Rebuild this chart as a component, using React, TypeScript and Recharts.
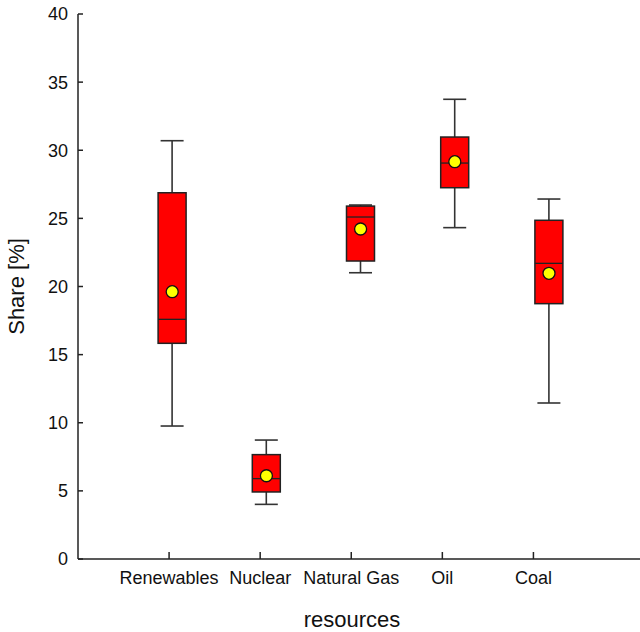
import React from 'react';
import { ComposedChart, Bar, Scatter, XAxis, YAxis } from 'recharts';

const categories = ['Renewables', 'Nuclear', 'Natural Gas', 'Oil', 'Coal'];
const positions = [1, 2, 3, 4, 5];
const mins = [9.76, 4.01, 21.01, 24.32, 11.45];
const q1s = [15.83, 4.92, 21.87, 27.25, 18.74];
const medians = [17.59, 5.9, 25.1, 29.06, 21.7];
const q3s = [26.88, 7.66, 25.9, 30.97, 24.86];
const maxs = [30.7, 8.73, 25.98, 33.74, 26.42];
const means = [19.62, 6.11, 24.22, 29.16, 20.97];
const yTicks = [0, 5, 10, 15, 20, 25, 30, 35, 40];

const data = categories.map((name, i) => ({
  name,
  x: positions[i],
  min: mins[i],
  q1: q1s[i],
  median: medians[i],
  q3: q3s[i],
  max: maxs[i],
  mean: means[i],
  range: [mins[i], maxs[i]],
}));

const FONT = '"Liberation Sans", Arial, sans-serif';
const AXIS = '#222';

const BoxShape = (props: any) => {
  const { x, y, width, height, payload } = props;
  if (!payload) return null;
  const top = Math.min(y, y + height);
  const h = Math.abs(height);
  const span = payload.max - payload.min;
  const py = (v: number) => top + (h * (payload.max - v)) / span;
  const cx = x + width / 2;
  const boxW = 28;
  const capW = 23;
  const yMax = py(payload.max);
  const yMin = py(payload.min);
  const yQ3 = py(payload.q3);
  const yQ1 = py(payload.q1);
  const yMed = py(payload.median);
  return (
    <g>
      <line x1={cx} x2={cx} y1={yMax} y2={yQ3} stroke="#333" strokeWidth={1.6} />
      <line x1={cx} x2={cx} y1={yQ1} y2={yMin} stroke="#333" strokeWidth={1.6} />
      <line x1={cx - capW / 2} x2={cx + capW / 2} y1={yMax} y2={yMax} stroke="#333" strokeWidth={1.6} />
      <line x1={cx - capW / 2} x2={cx + capW / 2} y1={yMin} y2={yMin} stroke="#333" strokeWidth={1.6} />
      <rect x={cx - boxW / 2} y={yQ3} width={boxW} height={yQ1 - yQ3} fill="#ff0000" stroke="#222" strokeWidth={1.5} />
      <line x1={cx - boxW / 2} x2={cx + boxW / 2} y1={yMed} y2={yMed} stroke="#222" strokeWidth={1.3} />
    </g>
  );
};

const MeanDot = (props: any) => {
  const { cx, cy } = props;
  return <circle cx={cx} cy={cy} r={6} fill="#ffff00" stroke="#111" strokeWidth={1.3} />;
};

export default function App() {
  return (
    <div style={{ position: 'absolute', left: 0, top: 0, width: 640, height: 632, background: '#fff' }}>
      <ComposedChart width={640} height={632} data={data} margin={{ top: 14, right: 0, bottom: 0, left: 0 }}>
        <XAxis
          xAxisId="ticks"
          dataKey="x"
          type="number"
          domain={[0, 6.17]}
          ticks={positions}
          allowDataOverflow
          tickFormatter={(v: number) => categories[v - 1] ?? ''}
          tickSize={-7}
          tickMargin={19}
          height={73}
          axisLine={{ stroke: AXIS, strokeWidth: 1.5 }}
          tickLine={{ stroke: AXIS, strokeWidth: 1.5 }}
          tick={{ fill: '#111', fontSize: 18, fontFamily: FONT }}
          interval={0}
          label={{ value: 'resources', position: 'insideBottom', offset: 5, dx: -7, fill: '#111', fontSize: 22, fontFamily: FONT }}
        />
        <XAxis
          xAxisId="box"
          dataKey="x"
          type="number"
          domain={[0, 5.966]}
          orientation="top"
          height={0}
          tick={false}
          tickLine={false}
          axisLine={{ stroke: AXIS, strokeWidth: 1.5 }}
          allowDataOverflow
        />
        <YAxis
          type="number"
          domain={[0, 40]}
          ticks={yTicks}
          width={78}
          tickSize={-5}
          tickMargin={15}
          axisLine={{ stroke: AXIS, strokeWidth: 1.5 }}
          tickLine={{ stroke: AXIS, strokeWidth: 1.5 }}
          tick={{ fill: '#111', fontSize: 18, fontFamily: FONT }}
          label={{ value: 'Share [%]', angle: -90, position: 'insideLeft', offset: 16, fill: '#111', fontSize: 22, fontFamily: FONT, style: { textAnchor: 'middle' } }}
        />
        <Bar xAxisId="box" dataKey="range" barSize={28} shape={<BoxShape />} isAnimationActive={false} />
        <Scatter xAxisId="box" dataKey="mean" shape={<MeanDot />} isAnimationActive={false} />
      </ComposedChart>
    </div>
  );
}
